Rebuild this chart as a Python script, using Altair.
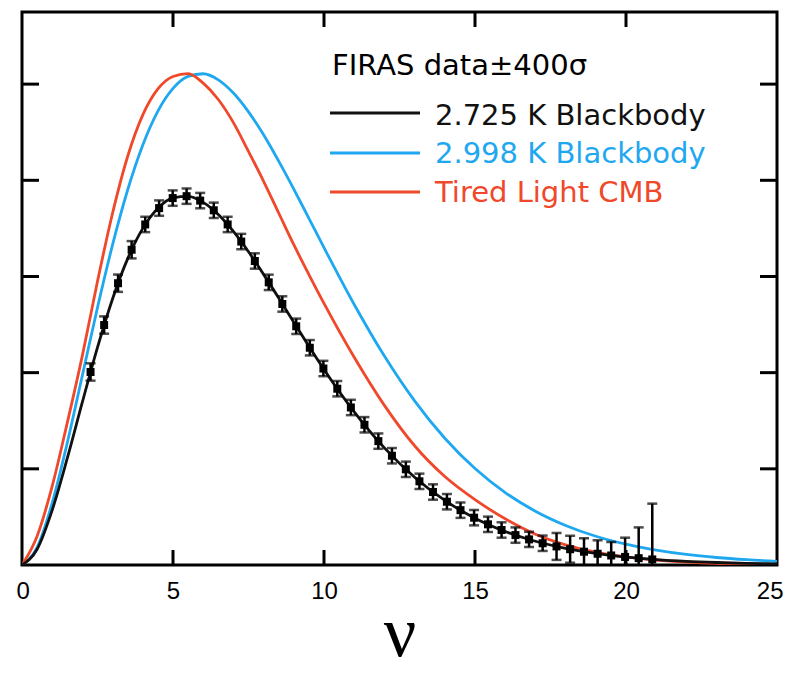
import altair as alt
import pandas as pd

# ---------------- data ----------------
# FIRAS data points (frequency in cm^-1, intensity in MJy/sr) and half error bars
firas_nu = [2.27, 2.72, 3.18, 3.63, 4.08, 4.54, 4.99, 5.45, 5.90, 6.35, 6.81, 7.26,
            7.71, 8.17, 8.62, 9.08, 9.53, 9.98, 10.44, 10.89, 11.34, 11.80, 12.25,
            12.71, 13.16, 13.61, 14.07, 14.52, 14.97, 15.43, 15.88, 16.34, 16.79,
            17.24, 17.70, 18.15, 18.61, 19.06, 19.51, 19.97, 20.42, 20.87]
firas_I = [200.7, 249.5, 293.0, 327.8, 354.1, 371.1, 381.5, 383.5, 378.9, 368.8,
           354.1, 336.3, 316.1, 293.9, 271.4, 248.2, 225.9, 204.3, 183.3, 163.8,
           145.8, 128.8, 113.6, 99.5, 87.0, 75.9, 65.8, 57.0, 49.2, 42.3, 36.4,
           31.1, 26.6, 22.6, 19.3, 16.4, 13.8, 11.7, 9.9, 8.4, 7.1, 5.8]
firas_err = [9, 9, 9, 9, 8, 8, 8, 8, 8, 8, 8, 8, 8, 8, 8, 8, 8, 8, 8, 8, 8, 8,
             8, 8, 8, 8, 8, 8, 8, 8, 8, 8, 8, 8, 14, 14, 14, 14, 14, 20, 32, 58]

# 2.725 K blackbody curve
bb_nu = [0, 0.5, 1, 1.5, 2, 2.5, 3, 3.5, 4, 4.5, 5, 5.5, 6, 6.5, 7, 7.5, 8, 8.5,
         9, 9.5, 10, 11, 12, 13, 14, 15, 16, 17, 18, 19, 20, 21, 22, 23, 24, 25]
bb_I = [0, 16.4, 57.1, 111.0, 169.5, 226.3, 276.9, 318.6, 350.0, 370.9, 381.7,
        383.2, 377.1, 364.4, 346.8, 325.7, 302.2, 277.6, 252.3, 227.4, 203.3,
        159.3, 121.8, 91.3, 67.2, 48.7, 34.9, 24.7, 17.3, 12.0, 8.2, 5.6, 3.8,
        2.6, 1.7, 1.2]

# 2.998 K blackbody curve
hot_nu = bb_nu
hot_I = [0, 18.3, 64.5, 127.2, 197.3, 267.7, 333.1, 390.2, 436.8, 472.0, 495.6,
         508.1, 510.8, 504.4, 490.7, 471.2, 447.3, 419.9, 390.8, 360.5, 330.0,
         270.9, 217.3, 170.7, 131.8, 100.3, 75.3, 55.9, 41.1, 29.9, 21.6, 15.5,
         11.0, 7.8, 5.5, 3.8]

# Tired light CMB curve
tl_nu = bb_nu
tl_I = [0, 30, 82, 148, 218, 295, 366, 425, 468, 495, 508, 511, 501, 484, 460,
        430, 399, 366, 333, 302, 272, 216, 166, 124, 92, 68, 48, 32, 21, 13.5,
        8.5, 5.2, 3.0, 1.6, 0.8, 0.4]

x_ticks = [0, 5, 10, 15, 20, 25]
y_ticks = [100, 200, 300, 400, 500]

legend_title = "FIRAS data\u00b1400\u03c3"
legend_labels = ["2.725 K Blackbody", "2.998 K Blackbody", "Tired Light CMB"]
legend_colors = ["#111111", "#1fa8f0", "#f0482a"]

# ---------------- chart ----------------
W, H = 755, 553
xs = alt.Scale(domain=[0, 25], nice=False, zero=False)
ys = alt.Scale(domain=[0, 575], nice=False, zero=False)

x_axis = alt.Axis(values=x_ticks, ticks=False, domain=False, grid=False,
                  labelFont="Liberation Sans", labelFontSize=24, labelColor="black",
                  labelPadding=14, labelFlush=True, labelFlushOffset=6,
                  labelOverlap=False, format="d",
                  title="\u03bd", titleFont="Liberation Serif", titleFontSize=72,
                  titleFontWeight="normal", titleColor="black", titlePadding=-5)
y_axis = alt.Axis(labels=False, ticks=False, domain=False, grid=False, title=None)


def X(field):
    return alt.X(field, type="quantitative", scale=xs, axis=x_axis, title="\u03bd")


def Y(field):
    return alt.Y(field, type="quantitative", scale=ys, axis=y_axis, title=None)


df_bb = pd.DataFrame({"nu": bb_nu, "I": bb_I})
df_hot = pd.DataFrame({"nu": hot_nu, "I": hot_I})
df_tl = pd.DataFrame({"nu": tl_nu, "I": tl_I})
df_pts = pd.DataFrame({"nu": firas_nu, "I": firas_I, "err": firas_err})
df_pts["lo"] = df_pts["I"] - df_pts["err"]
df_pts["hi"] = df_pts["I"] + df_pts["err"]


def curve(df, color):
    return alt.Chart(df).mark_line(color=color, strokeWidth=2.8, clip=True,
                                   interpolate="monotone").encode(x=X("nu"), y=Y("I"))


hot = curve(df_hot, legend_colors[1])
tl = curve(df_tl, legend_colors[2])
bb = curve(df_bb, legend_colors[0])

base_pts = alt.Chart(df_pts)
bars = base_pts.mark_rule(color="black", strokeWidth=2.5, clip=True).encode(
    x=X("nu"), y=Y("lo"), y2="hi:Q")
cap_hi = base_pts.mark_tick(color="black", orient="horizontal", size=10,
                            thickness=2.5, clip=True).encode(x=X("nu"), y=Y("hi"))
cap_lo = base_pts.mark_tick(color="black", orient="horizontal", size=10,
                            thickness=2.5, clip=True).encode(x=X("nu"), y=Y("lo"))
squares = base_pts.mark_square(color="black", size=64, opacity=1, filled=True,
                               clip=True).encode(x=X("nu"), y=Y("I"))

# inward ticks on all four sides
df_xt = pd.DataFrame({"v": x_ticks[1:-1]})
df_yt = pd.DataFrame({"v": y_ticks})
TL = 15
xt_bot = alt.Chart(df_xt).mark_rule(color="black", strokeWidth=3).encode(
    x=X("v"), y=alt.value(H), y2=alt.value(H - TL))
xt_top = alt.Chart(df_xt).mark_rule(color="black", strokeWidth=3).encode(
    x=X("v"), y=alt.value(0), y2=alt.value(TL))
yt_left = alt.Chart(df_yt).mark_rule(color="black", strokeWidth=3).encode(
    y=Y("v"), x=alt.value(0), x2=alt.value(TL + 2))
yt_right = alt.Chart(df_yt).mark_rule(color="black", strokeWidth=3).encode(
    y=Y("v"), x=alt.value(W), x2=alt.value(W - TL - 2))

# legend
LEG_FONT = "DejaVu Sans"
LEG_SIZE = 29
one = pd.DataFrame({"k": [0]})
leg = [alt.Chart(one).mark_text(text=legend_title, font=LEG_FONT, fontSize=LEG_SIZE,
                                align="left", baseline="alphabetic",
                                color="black").encode(x=alt.value(310), y=alt.value(63))]
line_y = [101, 141, 180]
text_y = [113, 151, 190]
for lab, col, ly, ty in zip(legend_labels, legend_colors, line_y, text_y):
    leg.append(alt.Chart(one).mark_rule(color=col, strokeWidth=2.8).encode(
        x=alt.value(308), x2=alt.value(398), y=alt.value(ly)))
    leg.append(alt.Chart(one).mark_text(text=lab, font=LEG_FONT, fontSize=LEG_SIZE,
                                        align="left", baseline="alphabetic",
                                        color=col).encode(x=alt.value(413), y=alt.value(ty)))

chart = alt.layer(
    hot, tl, bb, bars, cap_hi, cap_lo, squares,
    xt_bot, xt_top, yt_left, yt_right, *leg
).properties(
    width=W, height=H,
    autosize=alt.AutoSizeParams(type="none"),
    padding={"left": 14, "top": 4, "right": 9, "bottom": 96},
    background="white",
).configure_view(stroke="black", strokeWidth=3)

chart.save("out.html", embed_options={"renderer": "svg", "actions": False})
